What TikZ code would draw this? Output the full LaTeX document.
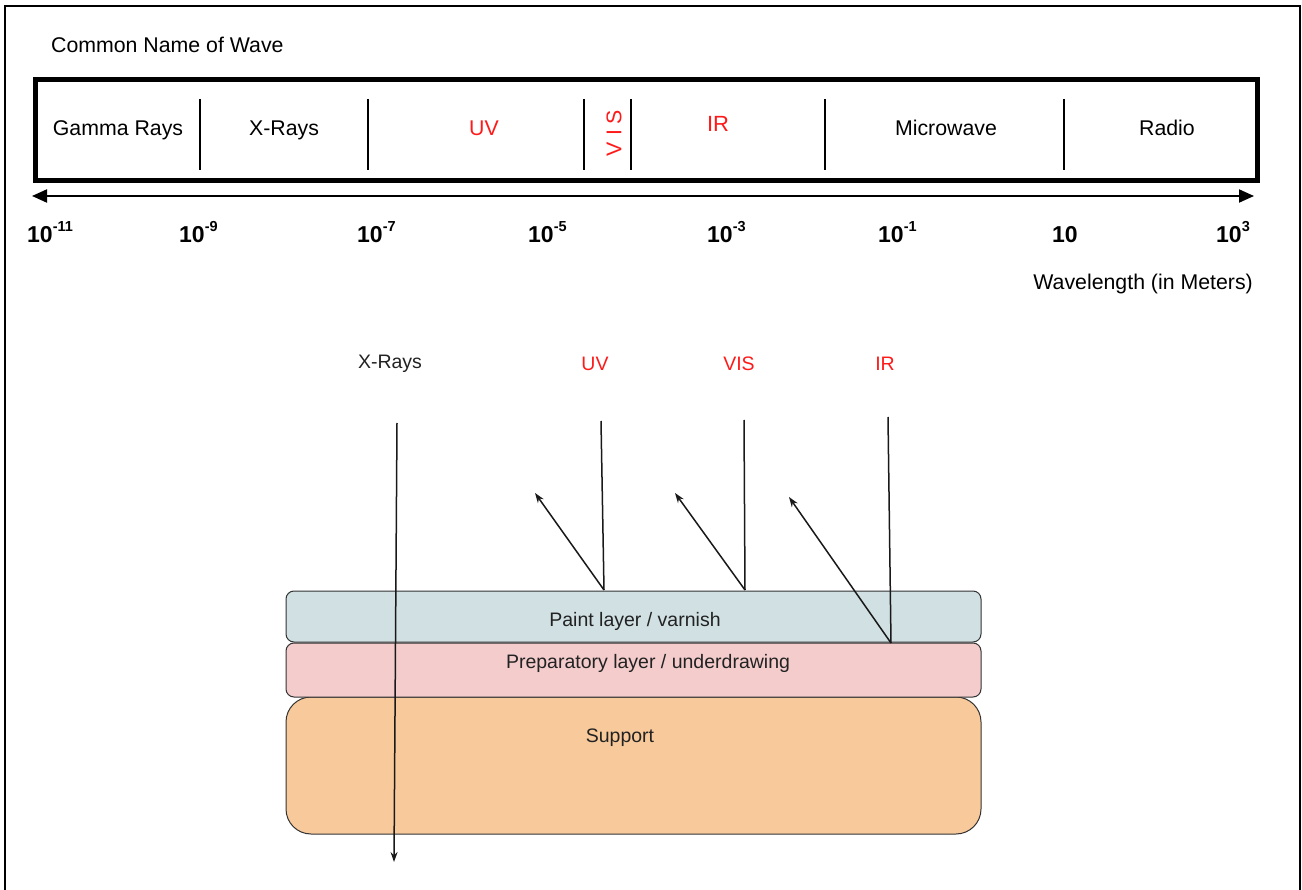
\documentclass[tikz,border=0pt]{standalone}
\usepackage{fontspec}
\setmainfont{Liberation Sans}
\usetikzlibrary{arrows.meta}
\definecolor{wred}{HTML}{FF1A1A}
\definecolor{txtdark}{HTML}{222222}
\definecolor{paintc}{HTML}{D0E0E3}
\definecolor{prepc}{HTML}{F4CCCC}
\definecolor{suppc}{HTML}{F8CA9B}
\newcommand\tenpow[1]{\textbf{10}\raisebox{11pt}{\fontsize{14.5}{14}\selectfont\textbf{#1}}}
\tikzset{
  bandlabel/.style={font=\fontsize{21.3}{24}\selectfont, inner sep=0pt, anchor=base},
  redlabel/.style={bandlabel, text=wred},
  ticklabel/.style={font=\fontsize{23}{24}\selectfont, anchor=base west, inner sep=0pt},
  divider/.style={line width=2.5pt},
  lowlabel/.style={font=\fontsize{19.5}{22}\selectfont, text=txtdark, inner sep=0pt, anchor=base},
  lowred/.style={lowlabel, text=wred},
  layer/.style={draw=black!80, line width=1pt, minimum width=695pt, inner sep=0pt},
  ray/.style={line width=1.5pt, black!90},
  rayarrow/.style={ray, -{Stealth[length=10pt,width=7pt]}}
}
\begin{document}
\begin{tikzpicture}[x=1pt,y=-1pt]
\useasboundingbox (0,0) rectangle (1302,890);
% outer frame
\draw[line width=2pt] (5,890) -- (5,6) -- (1300,6) -- (1300,890);

\node[bandlabel, anchor=base west] (title) at (51,53) {Common Name of Wave};

% spectrum box
\node[draw, line width=5pt, minimum width=1222pt, minimum height=101pt, inner sep=0pt] (spec) at (646,130.5) {};
\foreach \xx in {200,368,584,631,825,1064} \draw[divider] (\xx,99) -- (\xx,170);

\node[bandlabel] (gamma) at (118,136) {Gamma Rays};
\node[bandlabel] (xray) at (284,136) {X-Rays};
\node[redlabel] (uv) at (484,136) {UV};
\node[redlabel, rotate=90, anchor=center] (vis) at (614,133) {V I S};
\node[redlabel, font=\fontsize{22}{24}\selectfont] (ir) at (718,131.5) {IR};
\node[bandlabel] (micro) at (946,136) {Microwave};
\node[bandlabel] (radio) at (1167,136) {Radio};

% wavelength axis
\coordinate (aL) at (32,196);
\coordinate (aR) at (1254,196);
\draw[line width=2pt, {Triangle[length=15pt,width=13pt]}-{Triangle[length=15pt,width=13pt]}] (aL) -- (aR);

\node[ticklabel] (t1) at (27,243) {\tenpow{-11}};
\node[ticklabel] (t2) at (179,243) {\tenpow{-9}};
\node[ticklabel] (t3) at (357,243) {\tenpow{-7}};
\node[ticklabel] (t4) at (528,243) {\tenpow{-5}};
\node[ticklabel] (t5) at (707,243) {\tenpow{-3}};
\node[ticklabel] (t6) at (878,243) {\tenpow{-1}};
\node[ticklabel] (t7) at (1052,243) {\textbf{10}};
\node[ticklabel] (t8) at (1216,243) {\tenpow{3}};

\node[bandlabel, anchor=base east] (wl) at (1253,290) {Wavelength (in Meters)};

% layers
\node[layer, fill=suppc, minimum height=137pt, rounded corners=25pt] (support) at (633.5,765.5) {};
\node[layer, fill=prepc, minimum height=54pt, rounded corners=8pt] (prep) at (633.5,670) {};
\node[layer, fill=paintc, minimum height=51pt, rounded corners=8pt] (paint) at (633.5,616.5) {};

\node[lowlabel] (paintt) at (635,626) {Paint layer / varnish};
\node[lowlabel] (prept) at (648,668.5) {Preparatory layer / underdrawing};
\node[lowlabel] (suppt) at (620,742) {Support};

% lower labels
\node[lowlabel] (lx) at (390,369) {X-Rays};
\node[lowred] (luv) at (595,371) {UV};
\node[lowred] (lvis) at (739,371) {VIS};
\node[lowred] (lir) at (885,371) {IR};

% rays
\coordinate (xs) at (397,423);
\coordinate (xe) at (394,862);
\draw[rayarrow] (xs) -- (xe);

\coordinate (us) at (601,421);
\coordinate (uh) at (604,590);
\coordinate (ur) at (535,493);
\draw[ray] (us) -- (uh);
\draw[rayarrow] (uh) -- (ur);

\coordinate (vs) at (744,420);
\coordinate (vh) at (745,590);
\coordinate (vr) at (675,493);
\draw[ray] (vs) -- (vh);
\draw[rayarrow] (vh) -- (vr);

\coordinate (is) at (888,417);
\coordinate (ih) at (891,643);
\coordinate (ir2) at (789,497);
\draw[ray] (is) -- (ih);
\draw[rayarrow] (ih) -- (ir2);
\end{tikzpicture}
\end{document}
